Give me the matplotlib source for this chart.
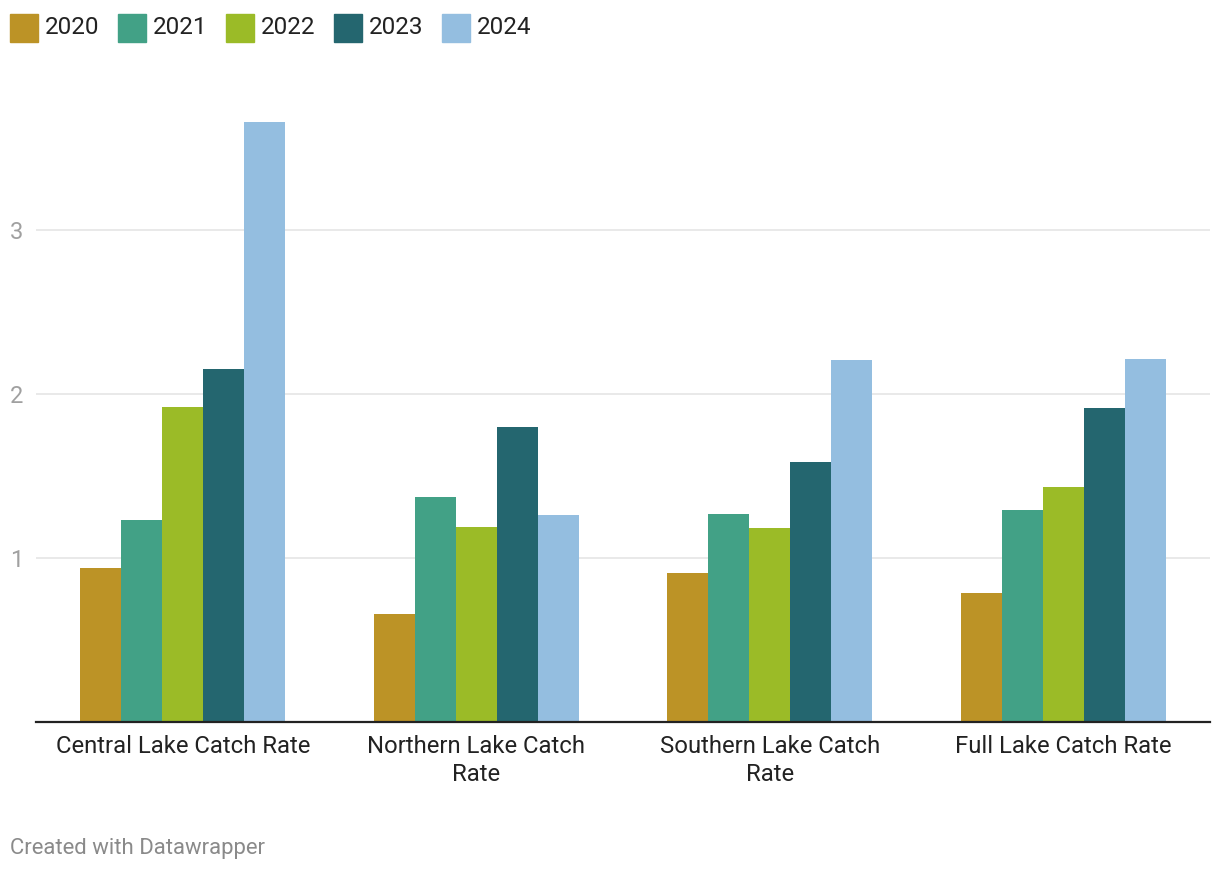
import matplotlib
matplotlib.use("Agg")
import matplotlib.pyplot as plt
from matplotlib.patches import Rectangle
import numpy as np

categories = ["Central Lake Catch Rate", "Northern Lake Catch\nRate",
              "Southern Lake Catch\nRate", "Full Lake Catch Rate"]
years = ["2020", "2021", "2022", "2023", "2024"]
v2020 = [0.935, 0.657, 0.907, 0.785]
v2021 = [1.230, 1.370, 1.266, 1.291]
v2022 = [1.919, 1.187, 1.181, 1.431]
v2023 = [2.150, 1.797, 1.583, 1.913]
v2024 = [3.656, 1.260, 2.205, 2.211]
series = [v2020, v2021, v2022, v2023, v2024]
colors = ["#bc9326", "#42a186", "#9bbb27", "#24666f", "#94bee0"]
yticks = [1, 2, 3]

plt.rcParams['font.family'] = ['Roboto', 'DejaVu Sans']

W, H = 1220, 872
fig = plt.figure(figsize=(W / 100, H / 100), dpi=100)
left_px, right_px = 36, 1210
bottom_px, top_px = 721.7, 114.9
ax = fig.add_axes([left_px / W, (H - bottom_px) / H,
                   (right_px - left_px) / W, (bottom_px - top_px) / H])

bw = 41 / 293.5
x = np.arange(len(categories))
for j, (vals, c) in enumerate(zip(series, colors)):
    ax.bar(x + (j - 2) * bw, vals, width=bw, color=c, linewidth=0, zorder=3)

ax.set_xlim(-0.5, len(categories) - 0.5)
ax.set_ylim(0, 3.7)
for s in ["top", "right", "left"]:
    ax.spines[s].set_visible(False)
ax.spines["bottom"].set_color("#222222")
ax.spines["bottom"].set_linewidth(1.6)
ax.spines["bottom"].set_zorder(5)

ax.set_yticks(yticks)
ax.set_yticklabels([str(t) for t in yticks], ha="left", color="#a0a0a0", fontsize=17)
ax.tick_params(axis="y", length=0, pad=26 * 0.72)
ax.yaxis.grid(True, color="#e5e5e5", linewidth=1.2, zorder=0)

ax.set_xticks(x)
ax.set_xticklabels(categories, fontsize=17.2, color="#222222", linespacing=1.24)
ax.tick_params(axis="x", length=0, pad=9.8)

# legend
for j, (yr, c) in enumerate(zip(years, colors)):
    x0 = 10 + j * 108
    fig.patches.append(Rectangle((x0 / W, (H - 42) / H), 28 / W, 28 / H,
                                 transform=fig.transFigure, color=c, figure=fig))
    fig.text((x0 + 35) / W, (H - 27.5) / H, yr, fontsize=17.5, color="#222222",
             ha="left", va="center")

fig.text(10 / W, (H - 848) / H, "Created with Datawrapper", fontsize=15.9,
         color="#8a8a8a", ha="left", va="center")

fig.savefig("out.png", dpi=100, facecolor="white")
